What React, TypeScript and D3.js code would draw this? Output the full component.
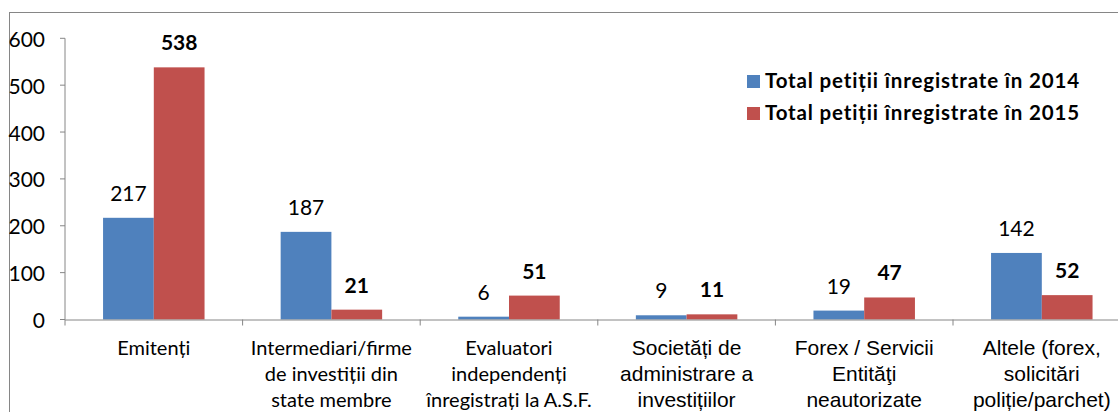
import React from "react";
import * as d3 from "d3";

// petitii pe categorii, 2014 vs 2015
const categories: string[][] = [
  ["Emitenți"],
  ["Intermediari/firme", "de investiții din", "state membre"],
  ["Evaluatori", "independenți", "înregistrați la A.S.F."],
  ["Societăți de", "administrare a", "investițiilor"],
  ["Forex / Servicii", "Entităţi", "neautorizate"],
  ["Altele (forex,", "solicitări", "poliție/parchet)"],
];
const series = ["Total petiții înregistrate în 2014", "Total petiții înregistrate în 2015"];
const values2014 = [217, 187, 6, 9, 19, 142];
const values2015 = [538, 21, 51, 11, 47, 52];
const yTicks = [0, 100, 200, 300, 400, 500, 600];

const W = 1118;
const H = 412;
const colors = ["#4F81BD", "#C0504D"];
const axisColor = "#868686";
const calibriLike = "Lato, 'Open Sans', sans-serif";
const arialLike = "'Liberation Sans', Arial, sans-serif";

export default function App() {
  const left = 65;
  const bottom = 319.5;
  const keys = categories.map((c, i) => String(i));

  const x = d3.scaleBand<string>().domain(keys).range([left, left + 6 * 177.6]).paddingInner(0).paddingOuter(0);
  const xInner = d3.scaleBand<string>().domain(["0", "1"]).range([0, x.bandwidth()]).paddingInner(0).paddingOuter(0.75);
  const y = d3.scaleLinear().domain([0, 600]).range([bottom, 38.3]);

  const rows = [values2014, values2015];

  return (
    <svg
      width={W}
      height={H}
      style={{ position: "absolute", left: 0, top: 0, display: "block", background: "#fff" }}
    >
      {/* chart frame, cut off right and bottom */}
      <rect x={9.5} y={12.5} width={W + 20} height={H + 20} fill="#fff" stroke={axisColor} strokeWidth={1} />

      {/* y axis */}
      <line x1={left} x2={left} y1={y(600)} y2={bottom} stroke={axisColor} />
      {yTicks.map((t) => (
        <g key={t}>
          <line x1={left - 5} x2={left} y1={y(t)} y2={y(t)} stroke={axisColor} />
          <text
            x={45}
            y={y(t)}
            textAnchor="end"
            dominantBaseline="central"
            fontFamily={calibriLike}
            fontSize={21}
            fill="#000"
          >
            {t}
          </text>
        </g>
      ))}

      {/* bars */}
      {rows.map((vals, s) =>
        vals.map((v, i) => {
          const bx = (x(keys[i]) as number) + (xInner(String(s)) as number);
          const bw = xInner.bandwidth();
          return (
            <g key={s + "-" + i}>
              <rect x={bx} y={y(v)} width={bw} height={bottom - y(v)} fill={colors[s]} />
              <text
                x={bx + bw / 2}
                y={y(v) - 17}
                textAnchor="middle"
                fontFamily={calibriLike}
                fontSize={21}
                fontWeight={s === 1 ? "bold" : "normal"}
                fill="#000"
              >
                {v}
              </text>
            </g>
          );
        })
      )}

      {/* x axis */}
      <line x1={left} x2={W + 20} y1={bottom + 0.5} y2={bottom + 0.5} stroke={axisColor} />
      {keys.map((k) => (
        <line key={k} x1={x(k) as number} x2={x(k) as number} y1={bottom} y2={bottom + 6} stroke={axisColor} />
      ))}
      {categories.map((lines, i) => (
        <text
          key={i}
          textAnchor="middle"
          fontFamily={i < 3 ? calibriLike : arialLike}
          fontSize={i < 3 ? 20 : 21}
          fill="#000"
        >
          {lines.map((ln, j) => (
            <tspan key={j} x={(x(keys[i]) as number) + x.bandwidth() / 2} y={355 + j * 26}>
              {ln}
            </tspan>
          ))}
        </text>
      ))}

      {/* legend */}
      {series.map((name, s) => (
        <g key={name} transform={`translate(747, ${75 + s * 32})`}>
          <rect x={0} y={0} width={13} height={13} fill={colors[s]} />
          <text
            x={18}
            y={13}
            fontFamily={calibriLike}
            fontSize={20.5}
            fontWeight="bold"
            letterSpacing={0.85}
            fill="#000"
          >
            {name}
          </text>
        </g>
      ))}
    </svg>
  );
}
